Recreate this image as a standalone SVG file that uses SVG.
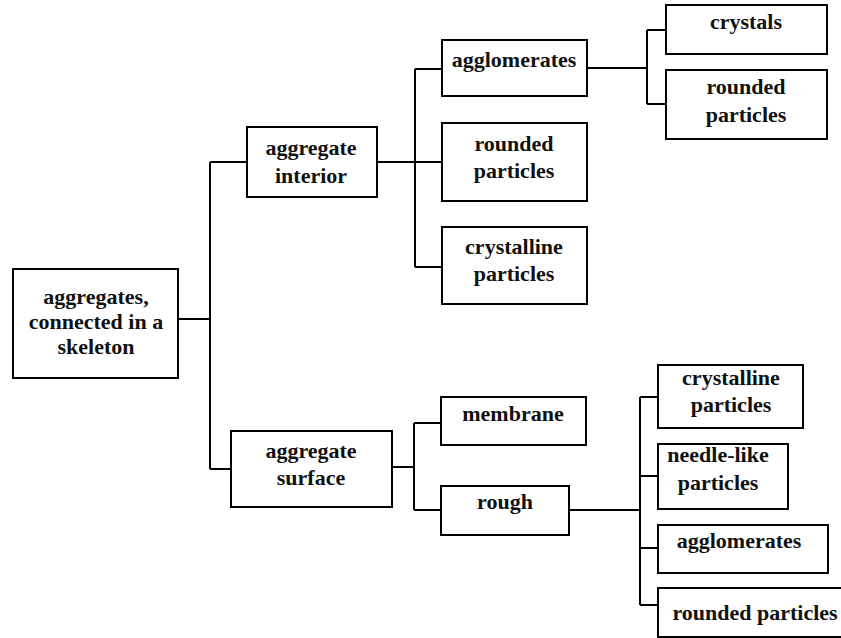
<svg xmlns="http://www.w3.org/2000/svg" width="841" height="638" viewBox="0 0 841 638">
<style>
rect{fill:#fff;stroke:#000;stroke-width:2}
text{font-family:"Liberation Serif","Times New Roman",serif;font-weight:bold;font-size:22px;fill:#111;text-anchor:middle}
#connectors path{fill:none;stroke:#000;stroke-width:2}
</style>
<rect x="0" y="0" width="841" height="638" style="stroke:none;fill:#fff"/>
<g id="connectors">
<path d="M178,319H210M210,162V469M210,162H247M210,469H231"/>
<path d="M377,162H415M415,69V267M415,69H442M415,162H442M415,267H442"/>
<path d="M587,68H647M647,30V104M647,30H666M647,104H666"/>
<path d="M392,467H414M414,423V510M414,423H441M414,510H441"/>
<path d="M569,510H640M640,397V605M640,397H658M640,476H658M640,548H658M640,605H658"/>
</g>
<g id="root"><rect x="13" y="269" width="165" height="109"/>
<text x="96" y="304">aggregates,</text><text x="96" y="329">connected in a</text><text x="96" y="354">skeleton</text></g>
<g id="interior"><rect x="247" y="127" width="130" height="70"/>
<text x="311" y="155">aggregate</text><text x="311" y="183">interior</text></g>
<g id="agglomerates1"><rect x="442" y="40" width="145" height="56"/>
<text x="514" y="67">agglomerates</text></g>
<g id="rounded1"><rect x="442" y="123" width="145" height="78"/>
<text x="514" y="151">rounded</text><text x="514" y="178">particles</text></g>
<g id="crystalline1"><rect x="442" y="227" width="145" height="77"/>
<text x="514" y="254">crystalline</text><text x="514" y="281">particles</text></g>
<g id="crystals"><rect x="666" y="5" width="161" height="49"/>
<text x="746" y="29">crystals</text></g>
<g id="rounded2"><rect x="666" y="70" width="161" height="69"/>
<text x="746" y="94">rounded</text><text x="746" y="122">particles</text></g>
<g id="surface"><rect x="231" y="431" width="161" height="76"/>
<text x="311" y="458">aggregate</text><text x="311" y="485">surface</text></g>
<g id="membrane"><rect x="441" y="397" width="145" height="48"/>
<text x="513" y="421">membrane</text></g>
<g id="rough"><rect x="441" y="486" width="128" height="49"/>
<text x="505" y="509">rough</text></g>
<g id="crystalline2"><rect x="658" y="365" width="145" height="63"/>
<text x="731" y="385">crystalline</text><text x="731" y="412">particles</text></g>
<g id="needle"><rect x="658" y="444" width="130" height="65"/>
<text x="718" y="462">needle-like</text><text x="718" y="490">particles</text></g>
<g id="agglomerates2"><rect x="658" y="525" width="170" height="48"/>
<text x="739" y="548">agglomerates</text></g>
<g id="rounded3"><rect x="658" y="588" width="195" height="49"/>
<text x="755" y="620">rounded particles</text></g>
</svg>
